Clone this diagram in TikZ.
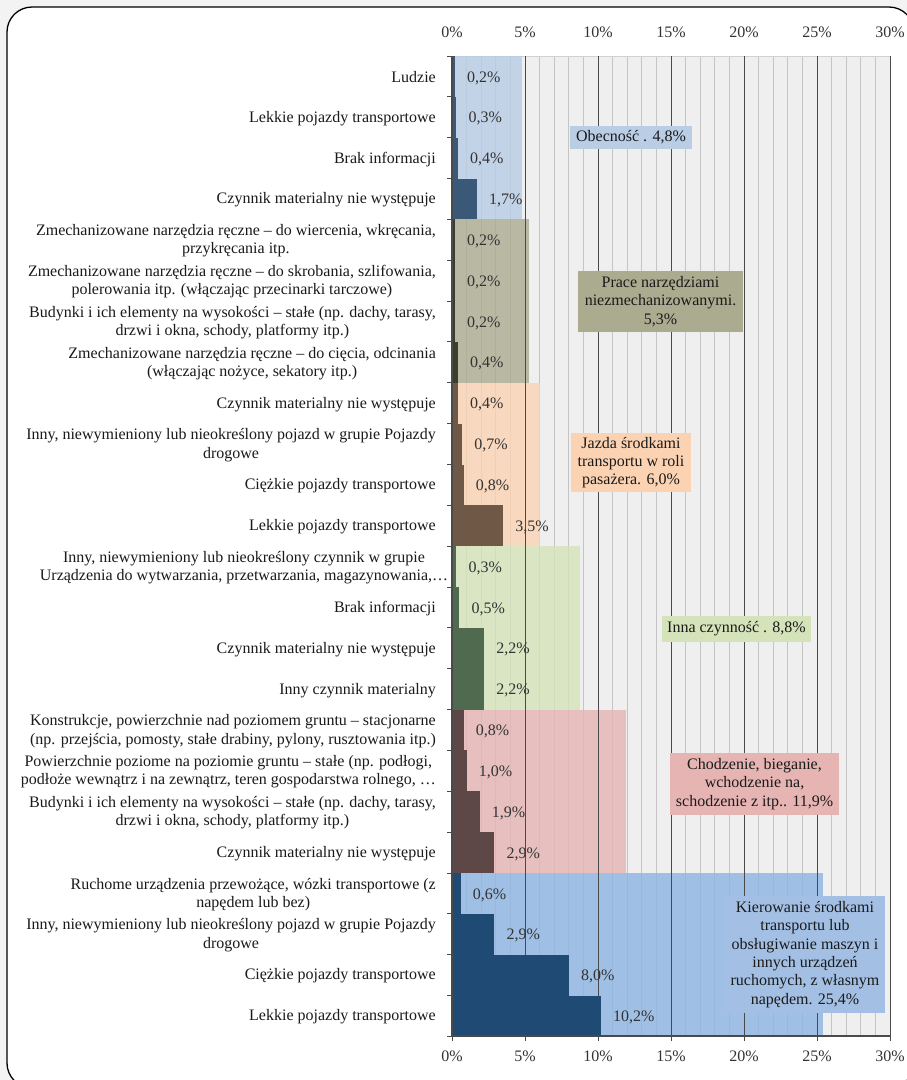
\documentclass[tikz,border=0pt]{standalone}
\usepackage{fontspec}
\setmainfont{Liberation Serif}
\definecolor{pagebg}{HTML}{F3F3F3}
\definecolor{plotbg}{HTML}{EFEFEF}
\definecolor{minorg}{HTML}{C4C4C4}
\definecolor{majorg}{HTML}{4A4A4A}
\definecolor{txt}{HTML}{1A1A1A}
\definecolor{valtxt}{HTML}{333333}
\definecolor{bgA}{HTML}{B9CDE5}\definecolor{barA}{HTML}{3A5877}
\definecolor{bgB}{HTML}{ABAB90}\definecolor{barB}{HTML}{3C3D2D}
\definecolor{bgC}{HTML}{FBD3B2}\definecolor{barC}{HTML}{6F5845}
\definecolor{bgD}{HTML}{D5E3BA}\definecolor{barD}{HTML}{4F6A4E}
\definecolor{bgE}{HTML}{E6B4B3}\definecolor{barE}{HTML}{5D4847}
\definecolor{bgF}{HTML}{8DB4E2}\definecolor{barF}{HTML}{1F4A73}
\definecolor{boxF}{HTML}{A3C0E4}
\tikzset{
  catlab/.style={anchor=east, align=center, text=txt, inner sep=0pt,
     font=\fontsize{16}{18.3}\selectfont},
  vallab/.style={anchor=west, text=valtxt, inner sep=0pt,
     font=\fontsize{16}{18.3}\selectfont},
  axlab/.style={text=valtxt, inner sep=0pt, font=\fontsize{16}{18.3}\selectfont},
  grpbox/.style={align=center, text=txt, inner sep=0pt,
     font=\fontsize{16}{18.3}\selectfont},
}
\newcommand\mybar[4]{%
  \fill[#4] (452,{56+#1*40.85}) rectangle ({452+#2*14.6},{56+(#1+1)*40.85});
  \node[vallab] (v#1) at ({452+#2*14.6+12},{56+(#1+0.5)*40.85+1.5}) {#3\%};
}
\newcommand\mycat[2]{%
  \node[catlab] (c#1) at (436,{56+(#1+0.5)*40.85+1}) {#2};
}
\newcommand\mygrp[3]{% first row, value, colour
  \fill[#3, opacity=0.8] (452,{56+#1*40.85}) rectangle ({452+#2*14.6},{56+(#1+4)*40.85});
}
\begin{document}
\begin{tikzpicture}[x=1pt,y=-1pt]
\useasboundingbox (0,0) rectangle (907,1080);
\begin{scope}
\clip (0,0) rectangle (907,1080);
\fill[pagebg] (0,0) rectangle (907,1080);
\draw[fill=white, line width=1.3pt, rounded corners=25pt] (7,7) rectangle (914,1088);
\end{scope}
% plot area
\fill[plotbg] (452,56) rectangle (890,1036);
\foreach \i in {1,...,29} {\draw[minorg, line width=0.8pt] ({452+\i*14.6},56) -- ({452+\i*14.6},1036);}
\draw[minorg!70!plotbg, line width=1pt] (452,56) -- (890,56);
% group backgrounds
\mygrp{0}{4.8}{bgA}
\mygrp{4}{5.3}{bgB}
\mygrp{8}{6.0}{bgC}
\mygrp{12}{8.8}{bgD}
\mygrp{16}{11.9}{bgE}
\mygrp{20}{25.4}{bgF}
\foreach \i in {1,...,6} {\draw[majorg, line width=1pt] ({452+\i*73},56) -- ({452+\i*73},1036);}
% bars
\mybar{0}{0.2}{0,2}{barA}
\mybar{1}{0.3}{0,3}{barA}
\mybar{2}{0.4}{0,4}{barA}
\mybar{3}{1.7}{1,7}{barA}
\mybar{4}{0.2}{0,2}{barB}
\mybar{5}{0.2}{0,2}{barB}
\mybar{6}{0.2}{0,2}{barB}
\mybar{7}{0.4}{0,4}{barB}
\mybar{8}{0.4}{0,4}{barC}
\mybar{9}{0.7}{0,7}{barC}
\mybar{10}{0.8}{0,8}{barC}
\mybar{11}{3.5}{3,5}{barC}
\mybar{12}{0.3}{0,3}{barD}
\mybar{13}{0.5}{0,5}{barD}
\mybar{14}{2.2}{2,2}{barD}
\mybar{15}{2.2}{2,2}{barD}
\mybar{16}{0.8}{0,8}{barE}
\mybar{17}{1.0}{1,0}{barE}
\mybar{18}{1.9}{1,9}{barE}
\mybar{19}{2.9}{2,9}{barE}
\mybar{20}{0.6}{0,6}{barF}
\mybar{21}{2.9}{2,9}{barF}
\mybar{22}{8.0}{8,0}{barF}
\mybar{23}{10.2}{10,2}{barF}
% axes
\draw[majorg, line width=1.2pt] (452,56) -- (452,1036) -- (890,1036);
\foreach \i in {0,...,24} {\draw[majorg, line width=1pt] (447,{56+\i*40.85}) -- (452,{56+\i*40.85});}
\foreach \i in {0,...,6} {\draw[majorg, line width=1pt] ({452+\i*73},1036) -- ({452+\i*73},1041);}
\foreach \i/\t in {0/0,1/5,2/10,3/15,4/20,5/25,6/30} {
  \node[axlab] (t\i) at ({452+\i*73},32) {\t\%};
  \node[axlab] (b\i) at ({452+\i*73},1056) {\t\%};
}
% category labels
\mycat{0}{Ludzie}
\mycat{1}{Lekkie pojazdy transportowe}
\mycat{2}{Brak informacji}
\mycat{3}{Czynnik materialny nie występuje}
\mycat{4}{Zmechanizowane narzędzia ręczne – do wiercenia, wkręcania,\\przykręcania itp.}
\mycat{5}{Zmechanizowane narzędzia ręczne – do skrobania, szlifowania,\\polerowania itp. (włączając przecinarki tarczowe)}
\mycat{6}{Budynki i ich elementy na wysokości – stałe (np. dachy, tarasy,\\drzwi i okna, schody, platformy itp.)}
\mycat{7}{Zmechanizowane narzędzia ręczne – do cięcia, odcinania\\(włączając nożyce, sekatory itp.)}
\mycat{8}{Czynnik materialny nie występuje}
\mycat{9}{Inny, niewymieniony lub nieokreślony pojazd w grupie Pojazdy\\drogowe}
\mycat{10}{Ciężkie pojazdy transportowe}
\mycat{11}{Lekkie pojazdy transportowe}
\node[catlab, anchor=center] (c12) at (244,{56+12.5*40.85+1}) {Inny, niewymieniony lub nieokreślony czynnik w grupie\\Urządzenia do wytwarzania, przetwarzania, magazynowania,…};
\mycat{13}{Brak informacji}
\mycat{14}{Czynnik materialny nie występuje}
\mycat{15}{Inny czynnik materialny}
\mycat{16}{Konstrukcje, powierzchnie nad poziomem gruntu – stacjonarne\\(np. przejścia, pomosty, stałe drabiny, pylony, rusztowania itp.)}
\mycat{17}{Powierzchnie poziome na poziomie gruntu – stałe (np. podłogi,\\podłoże wewnątrz i na zewnątrz, teren gospodarstwa rolnego, …}
\mycat{18}{Budynki i ich elementy na wysokości – stałe (np. dachy, tarasy,\\drzwi i okna, schody, platformy itp.)}
\mycat{19}{Czynnik materialny nie występuje}
\mycat{20}{Ruchome urządzenia przewożące, wózki transportowe (z\\napędem lub bez)}
\mycat{21}{Inny, niewymieniony lub nieokreślony pojazd w grupie Pojazdy\\drogowe}
\mycat{22}{Ciężkie pojazdy transportowe}
\mycat{23}{Lekkie pojazdy transportowe}
% group label boxes
\node[grpbox, fill=bgA, minimum width=122pt, minimum height=23pt] (g1) at (631,137.5) {Obecność . 4,8\%};
\node[grpbox, fill=bgB, minimum width=165pt, minimum height=61pt] (g2) at (660.5,301.5) {Prace narzędziami\\niezmechanizowanymi.\\5,3\%};
\node[grpbox, fill=bgC, minimum width=120pt, minimum height=59pt] (g3) at (631,462.5) {Jazda środkami\\transportu w roli\\pasażera. 6,0\%};
\node[grpbox, fill=bgD, minimum width=149pt, minimum height=26pt] (g4) at (736.5,629) {Inna czynność . 8,8\%};
\node[grpbox, fill=bgE, minimum width=169pt, minimum height=62pt] (g5) at (754.5,784) {Chodzenie, bieganie,\\wchodzenie na,\\schodzenie z itp.. 11,9\%};
\node[grpbox, fill=boxF, minimum width=160pt, minimum height=117pt] (g6) at (805,954.5) {Kierowanie środkami\\transportu lub\\obsługiwanie maszyn i\\innych urządzeń\\ruchomych, z własnym\\napędem. 25,4\%};
\end{tikzpicture}
\end{document}
